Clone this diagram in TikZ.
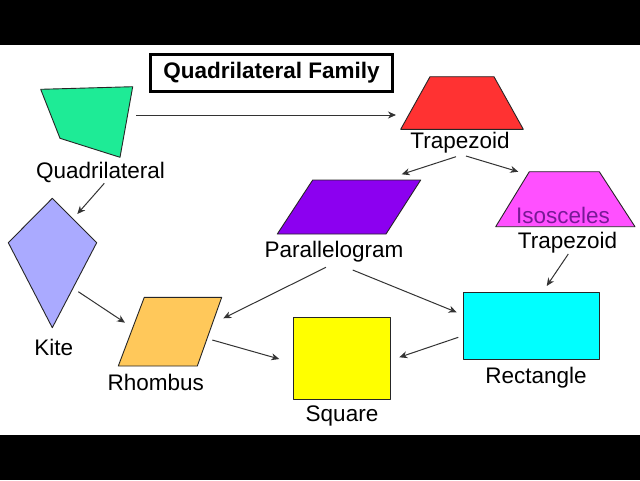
\documentclass[tikz,border=0pt]{standalone}
\usepackage{fontspec}
\setmainfont{Liberation Sans}
\usetikzlibrary{arrows.meta}

\definecolor{quadgreen}{RGB}{30,235,150}
\definecolor{trapred}{RGB}{255,50,50}
\definecolor{parapurple}{RGB}{140,0,240}
\definecolor{isomagenta}{RGB}{255,80,255}
\definecolor{isotext}{RGB}{120,25,150}
\definecolor{rectcyan}{RGB}{0,255,255}
\definecolor{sqyellow}{RGB}{255,255,0}
\definecolor{rhomborange}{RGB}{255,200,90}
\definecolor{kitelav}{RGB}{170,170,255}

\begin{document}
\begin{tikzpicture}[x = 1pt, y = -1pt,
        fig/.style = {draw = black!85, line width = 0.9pt, line join = round},
        lbl/.style = {font = \fontsize{22.5}{27}\selectfont, inner sep = 0pt, anchor = base},
        link/.style = {-{Stealth[length = 8pt, width = 7pt, inset = 2.5pt]}, black!80, line width = 1pt}]
        \useasboundingbox (0, 0) rectangle (640, 480);
        \fill[white] (0, 45) rectangle (640, 435);
        \fill[black] (0, 0) rectangle (640, 45);
        \fill[black] (0, 435) rectangle (640, 480);

        \node[draw, line width = 3pt, minimum width = 242pt, minimum height = 37pt, inner sep = 0pt,
            font = \fontsize{22.5}{27}\selectfont\bfseries] (title) at (271.5, 72.8) {Quadrilateral Family};

        \draw[fig, fill = quadgreen] (40.7, 89.3) -- (132.7, 86.7) -- (120, 157.3) -- (60, 138.3) -- cycle;
        \draw[fig, fill = trapred] (430, 76.7) -- (494, 76.7) -- (523.3, 129.3) -- (400.7, 129.3) -- cycle;
        \draw[fig, fill = parapurple] (312.7, 180) -- (420.7, 180) -- (386, 234) -- (277.3, 234) -- cycle;
        \draw[fig, fill = isomagenta] (529.3, 171.7) -- (599.3, 171.7) -- (635, 226.7) -- (495.7, 226.7) -- cycle;
        \draw[fig, fill = kitelav] (52.3, 198.3) -- (96.7, 242.7) -- (52.3, 327.7) -- (8.3, 242.7) -- cycle;
        \draw[fig, fill = rhomborange] (144.3, 297.3) -- (221.7, 297.3) -- (197.3, 366) -- (118.3, 366) -- cycle;
        \draw[fig, fill = sqyellow] (293.3, 317.3) rectangle (390.7, 399.3);
        \draw[fig, fill = rectcyan] (463.3, 292.7) rectangle (599.3, 359);

        \node[lbl] (quad) at (100.5, 178) {Quadrilateral};
        \node[lbl] (trap) at (460, 148) {Trapezoid};
        \node[lbl] (para) at (334, 257.5) {Parallelogram};
        \node[lbl, text = isotext] (iso) at (563, 223) {Isosceles};
        \node[lbl] (isotrap) at (567.5, 248) {Trapezoid};
        \node[lbl] (kite) at (53.7, 355) {Kite};
        \node[lbl] (rhomb) at (155.8, 390) {Rhombus};
        \node[lbl] (square) at (342, 421) {Square};
        \node[lbl] (rect) at (536, 383) {Rectangle};

        \coordinate (quadR) at (136, 115);
        \coordinate (trapL) at (396, 115);
        \coordinate (quadB) at (104.3, 183.3);
        \coordinate (kiteT) at (77.3, 214);
        \coordinate (trapBL) at (456, 156.7);
        \coordinate (paraT) at (401.7, 174.3);
        \coordinate (trapBR) at (466, 156);
        \coordinate (isoT) at (518.3, 171.7);
        \coordinate (isoB) at (568.3, 254);
        \coordinate (rectT) at (546.7, 286);
        \coordinate (paraBL) at (326, 267.3);
        \coordinate (rhombR) at (223.3, 318.3);
        \coordinate (paraBR) at (352.7, 270);
        \coordinate (rectL) at (456.7, 312.3);
        \coordinate (rectBL) at (458.3, 337.3);
        \coordinate (squareR) at (399.3, 357.3);
        \coordinate (kiteR) at (78.3, 291.7);
        \coordinate (rhombL) at (125, 322.7);
        \coordinate (rhombBR) at (212.3, 340);
        \coordinate (squareL) at (279.3, 359);

        \foreach \from/\to in {quadR/trapL, quadB/kiteT, trapBL/paraT, trapBR/isoT, isoB/rectT,
            paraBL/rhombR, paraBR/rectL, rectBL/squareR, kiteR/rhombL, rhombBR/squareL}
            \draw[link] (\from) -- (\to);
    \end{tikzpicture}
\end{document}
